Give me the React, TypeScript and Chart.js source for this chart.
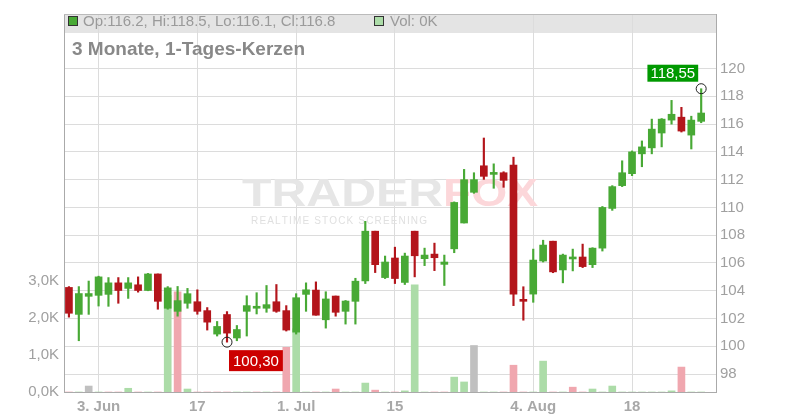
import React, { useEffect, useRef } from 'react';
import { Chart, registerables } from 'chart.js';

Chart.register(...registerables);

// ---- data ----
const opens = [
  104.24, 102.3, 103.6, 103.67, 103.74, 104.57, 104.17, 104.43, 104.02, 105.21,
  102.74, 102.52, 103.1, 103.21, 102.57, 100.88, 102.29, 100.6, 102.52, 102.74,
  102.74, 103.21, 102.57, 101.02, 103.74, 104.05, 101.91, 103.62, 102.52, 103.24,
  104.71, 108.29, 104.95, 106.36, 104.6, 108.29, 106.31, 106.64, 105.9, 107.02,
  108.88, 111.09, 113.0, 112.38, 112.5, 113.05, 103.38, 103.76, 106.14, 107.57,
  105.5, 106.29, 106.43, 105.88, 107.07, 109.93, 111.57, 112.43, 113.86, 114.29,
  115.36, 116.29, 116.5, 115.21, 116.2,
];
const highs = [
  104.3, 104.3, 104.7, 105.05, 104.95, 104.95, 104.95, 105.0, 105.25, 105.21,
  104.3, 104.31, 104.17, 104.07, 102.79, 101.79, 102.5, 101.5, 103.64, 103.86,
  104.38, 104.45, 102.93, 103.79, 104.57, 104.64, 103.93, 103.62, 103.3, 104.9,
  109.0, 108.29, 106.5, 107.14, 106.71, 108.29, 107.07, 107.43, 106.57, 110.4,
  112.74, 112.5, 115.0, 113.14, 112.57, 113.62, 104.29, 107.0, 107.64, 107.57,
  106.64, 107.0, 107.36, 107.1, 110.07, 111.57, 113.36, 114.07, 114.79, 116.36,
  116.4, 117.71, 117.21, 116.57, 118.55,
];
const lows = [
  102.1, 100.4, 102.3, 102.9, 102.88, 103.1, 103.45, 103.9, 104.0, 102.67,
  102.67, 102.17, 102.74, 102.31, 101.17, 100.74, 100.3, 100.4, 100.74, 102.33,
  102.45, 102.45, 101.1, 100.88, 102.52, 102.24, 101.31, 102.17, 101.6, 101.6,
  104.52, 105.31, 104.88, 104.52, 104.45, 105.0, 105.81, 105.45, 104.38, 106.74,
  108.88, 111.02, 112.02, 111.38, 111.45, 102.93, 101.88, 103.17, 106.07, 105.3,
  104.57, 105.43, 105.67, 105.67, 106.86, 109.79, 111.5, 112.29, 112.93, 113.86,
  114.36, 116.0, 115.43, 114.21, 116.1,
];
const closes = [
  102.38, 103.8, 103.8, 105.0, 104.57, 104.02, 104.57, 104.02, 105.21, 103.24,
  104.21, 103.29, 103.79, 102.52, 101.74, 101.43, 100.95, 101.21, 102.93, 102.78,
  103.0, 102.52, 101.17, 103.5, 104.07, 102.24, 103.41, 102.45, 103.26, 104.69,
  108.29, 105.88, 106.07, 104.88, 106.5, 106.52, 106.57, 106.38, 106.07, 110.36,
  112.0, 112.0, 112.24, 112.5, 111.95, 103.76, 103.24, 106.21, 107.29, 105.36,
  106.57, 106.43, 105.74, 107.07, 110.0, 111.5, 112.5, 114.0, 114.36, 115.64,
  116.36, 116.71, 115.5, 116.29, 116.8,
];
const volumes = [
  0, 0, 160, 0, 0, 0, 100, 0, 0, 0,
  2600, 2690, 80, 0, 0, 0, 0, 0, 0, 0,
  0, 0, 1200, 1700, 0, 0, 0, 80, 0, 0,
  240, 50, 0, 0, 30, 2880, 0, 0, 0, 400,
  270, 1250, 0, 0, 0, 720, 0, 0, 830, 0,
  0, 130, 0, 80, 0, 160, 0, 0, 0, 0,
  0, 30, 670, 0, 0,
];
const xTickPositions = [3, 13, 23, 33, 47, 57];
const xTickLabels = ['3. Jun', '17', '1. Jul', '15', '4. Aug', '18'];
const priceTicks = [98, 100, 102, 104, 106, 108, 110, 112, 114, 116, 118, 120];
const volumeTicks = [0, 1000, 2000, 3000];
const volumeTickLabels = ['0,0K', '1,0K', '2,0K', '3,0K'];
const legendOHLC = 'Op:116.2, Hi:118.5, Lo:116.1, Cl:116.8';
const legendVol = 'Vol: 0K';
const titleText = '3 Monate, 1-Tages-Kerzen';

const GREEN = '#48a935';
const RED = '#b3151b';
const VOL_UP = '#acdca8';
const VOL_DOWN = '#f0a7af';
const VOL_FLAT = '#c0c0c0';
const FONT = '"Liberation Sans", Arial, Helvetica, sans-serif';

const idx = opens.map((_, i) => i);
const candleColors = idx.map((i) => (closes[i] >= opens[i] ? GREEN : RED));
const volumeColors = idx.map((i) => {
  if (i === 0) return closes[0] >= opens[0] ? VOL_UP : VOL_DOWN;
  if (closes[i] > closes[i - 1]) return VOL_UP;
  if (closes[i] < closes[i - 1]) return VOL_DOWN;
  return VOL_FLAT;
});

const decorPlugin = {
  id: 'decor',
  beforeDraw(chart: any) {
    const { ctx, chartArea: a } = chart;
    ctx.save();
    ctx.fillStyle = '#ffffff';
    ctx.fillRect(0, 0, chart.width, chart.height);
    ctx.fillStyle = '#e4e4e4';
    ctx.fillRect(a.left, a.top, a.right - a.left, 19);
    ctx.restore();
  },
  beforeDatasetsDraw(chart: any) {
    const { ctx, chartArea: a } = chart;
    ctx.save();
    // top frame line
    ctx.strokeStyle = '#bbbbbb';
    ctx.lineWidth = 1;
    ctx.beginPath();
    ctx.moveTo(a.left, a.top + 0.5);
    ctx.lineTo(a.right, a.top + 0.5);
    ctx.stroke();

    // watermark
    const cx = (a.left + a.right) / 2;
    const cy = (a.top + a.bottom) / 2;
    ctx.font = `bold 38px ${FONT}`;
    ctx.textBaseline = 'alphabetic';
    ctx.textAlign = 'left';
    const w1 = ctx.measureText('TRADER').width;
    const w2 = ctx.measureText('FOX').width;
    const sx1 = 201 / w1;
    const sx2 = 95 / w2;
    const left = cx - 148;
    const base = cy + 2.5;
    ctx.save();
    ctx.translate(left, base);
    ctx.scale(sx1, 1);
    ctx.fillStyle = '#e6e6e6';
    ctx.fillText('TRADER', 0, 0);
    ctx.restore();
    ctx.save();
    ctx.translate(left + 201, base);
    ctx.scale(sx2, 1);
    ctx.fillStyle = '#fcd7da';
    ctx.fillText('FOX', 0, 0);
    ctx.restore();
    // subtitle
    const sub = 'REALTIME STOCK SCREENING';
    ctx.font = `10px ${FONT}`;
    ctx.fillStyle = '#e0e0e0';
    let natural = 0;
    for (const ch of sub) natural += ctx.measureText(ch).width;
    const gap = (176 - natural) / (sub.length - 1);
    let x = cx - 139;
    for (const ch of sub) {
      ctx.fillText(ch, x, cy + 20.5);
      x += ctx.measureText(ch).width + gap;
    }

    // header legend
    ctx.textBaseline = 'middle';
    ctx.font = `15px ${FONT}`;
    ctx.fillStyle = candleColors[candleColors.length - 1];
    ctx.fillRect(68.5, 16.5, 9, 9);
    ctx.strokeStyle = '#333';
    ctx.strokeRect(68.5, 16.5, 9, 9);
    ctx.fillStyle = '#9a9a9a';
    ctx.fillText(legendOHLC, 83, 21.5);
    ctx.fillStyle = VOL_UP;
    ctx.fillRect(374.5, 16.5, 9, 9);
    ctx.strokeRect(374.5, 16.5, 9, 9);
    ctx.fillStyle = '#9a9a9a';
    ctx.fillText(legendVol, 390, 21.5);

    // title
    ctx.textBaseline = 'alphabetic';
    ctx.font = `bold 19px ${FONT}`;
    ctx.fillStyle = '#888888';
    ctx.fillText(titleText, 72, 54.5);
    ctx.restore();
  },
  afterDatasetsDraw(chart: any) {
    const { ctx } = chart;
    const xs = chart.scales.x;
    const ys = chart.scales.y;
    let minI = 0;
    let maxI = 0;
    idx.forEach((i) => {
      if (lows[i] < lows[minI]) minI = i;
      if (highs[i] > highs[maxI]) maxI = i;
    });
    ctx.save();
    ctx.font = `15px ${FONT}`;
    ctx.textBaseline = 'middle';
    ctx.textAlign = 'center';
    // min marker
    let px = xs.getPixelForValue(minI);
    let py = ys.getPixelForValue(lows[minI]);
    ctx.strokeStyle = '#222';
    ctx.lineWidth = 1;
    ctx.beginPath();
    ctx.arc(px, py, 5, 0, Math.PI * 2);
    ctx.stroke();
    let t = lows[minI].toFixed(2).replace('.', ',');
    let tw = ctx.measureText(t).width;
    let bw = tw + 8;
    let bh = 21;
    let bx = px + 2;
    let by = py + 8;
    ctx.fillStyle = '#cc0000';
    ctx.fillRect(bx, by, bw, bh);
    ctx.fillStyle = '#ffffff';
    ctx.fillText(t, bx + bw / 2, by + bh / 2 + 1);
    // max marker
    px = xs.getPixelForValue(maxI);
    py = ys.getPixelForValue(highs[maxI]);
    ctx.beginPath();
    ctx.arc(px, py, 5, 0, Math.PI * 2);
    ctx.stroke();
    t = highs[maxI].toFixed(2).replace('.', ',');
    tw = ctx.measureText(t).width;
    bw = tw + 6;
    bh = 17;
    bx = px - 3 - bw;
    by = py - 7 - bh;
    ctx.fillStyle = '#009900';
    ctx.fillRect(bx, by, bw, bh);
    ctx.fillStyle = '#ffffff';
    ctx.fillText(t, bx + bw / 2, by + bh / 2 + 1);
    ctx.restore();
  },
};

export default function App() {
  const ref = useRef<HTMLCanvasElement | null>(null);
  useEffect(() => {
    if (!ref.current) return;
    Chart.defaults.font.family = FONT;
    const chart = new Chart(ref.current, {
      type: 'bar',
      data: {
        datasets: [
          {
            label: 'body',
            data: idx.map((i) => ({ x: i, y: [opens[i], closes[i]] })) as any,
            backgroundColor: candleColors,
            barThickness: 7,
            minBarLength: 2,
            grouped: false,
            yAxisID: 'y',
            order: 1,
          } as any,
          {
            label: 'wick',
            data: idx.map((i) => ({ x: i, y: [lows[i], highs[i]] })) as any,
            backgroundColor: candleColors,
            barThickness: 1.5,
            grouped: false,
            yAxisID: 'y',
            order: 2,
          } as any,
          {
            label: 'volume',
            data: idx.map((i) => ({ x: i, y: volumes[i] })) as any,
            backgroundColor: volumeColors,
            barThickness: 7,
            grouped: false,
            yAxisID: 'yv',
            order: 3,
          } as any,
        ],
      },
      options: {
        animation: false,
        responsive: false,
        maintainAspectRatio: false,
        layout: { padding: { top: 11, left: 0, right: 0, bottom: 0 } },
        plugins: { legend: { display: false }, tooltip: { enabled: false } },
        scales: {
          x: {
            type: 'linear',
            offset: false,
            min: -0.5,
            max: 65.5,
            afterBuildTicks: (s: any) => {
              s.ticks = xTickPositions.map((v) => ({ value: v }));
            },
            afterFit: (s: any) => {
              s.height = 28;
            },
            ticks: {
              autoSkip: false,
              maxRotation: 0,
              padding: 6,
              color: '#a8a8a8',
              font: { size: 15, weight: 'bold', family: FONT },
              callback: (v: any) => {
                const k = xTickPositions.indexOf(Number(v));
                return k >= 0 ? xTickLabels[k] : '';
              },
            },
            grid: { color: '#dcdcdc', drawTicks: false, offset: false },
            border: { color: '#aaaaaa' },
          },
          y: {
            type: 'linear',
            position: 'right',
            min: 96.71,
            max: 123.93,
            afterBuildTicks: (s: any) => {
              s.ticks = priceTicks.map((v) => ({ value: v }));
            },
            afterFit: (s: any) => {
              s.width = 84;
            },
            ticks: {
              padding: 4,
              color: '#a0a0a0',
              font: { size: 15, family: FONT },
              callback: (v: any) => String(v),
            },
            grid: { color: '#dcdcdc', drawTicks: false },
            border: { color: '#aaaaaa' },
          },
          yv: {
            type: 'linear',
            position: 'left',
            min: 0,
            max: 10160,
            afterBuildTicks: (s: any) => {
              s.ticks = volumeTicks.map((v) => ({ value: v }));
            },
            afterFit: (s: any) => {
              s.width = 64;
            },
            ticks: {
              padding: 5,
              color: '#a0a0a0',
              font: { size: 15, family: FONT },
              callback: (v: any) => {
                const k = volumeTicks.indexOf(Number(v));
                return k >= 0 ? volumeTickLabels[k] : '';
              },
            },
            grid: { display: false, drawTicks: false },
            border: { color: '#aaaaaa' },
          },
        },
      } as any,
      plugins: [decorPlugin],
    });
    return () => chart.destroy();
  }, []);
  return (
    <div style={{ position: 'absolute', left: 0, top: 0, width: 800, height: 420 }}>
      <canvas ref={ref} width={800} height={420} style={{ width: 800, height: 420, display: 'block' }} />
    </div>
  );
}
